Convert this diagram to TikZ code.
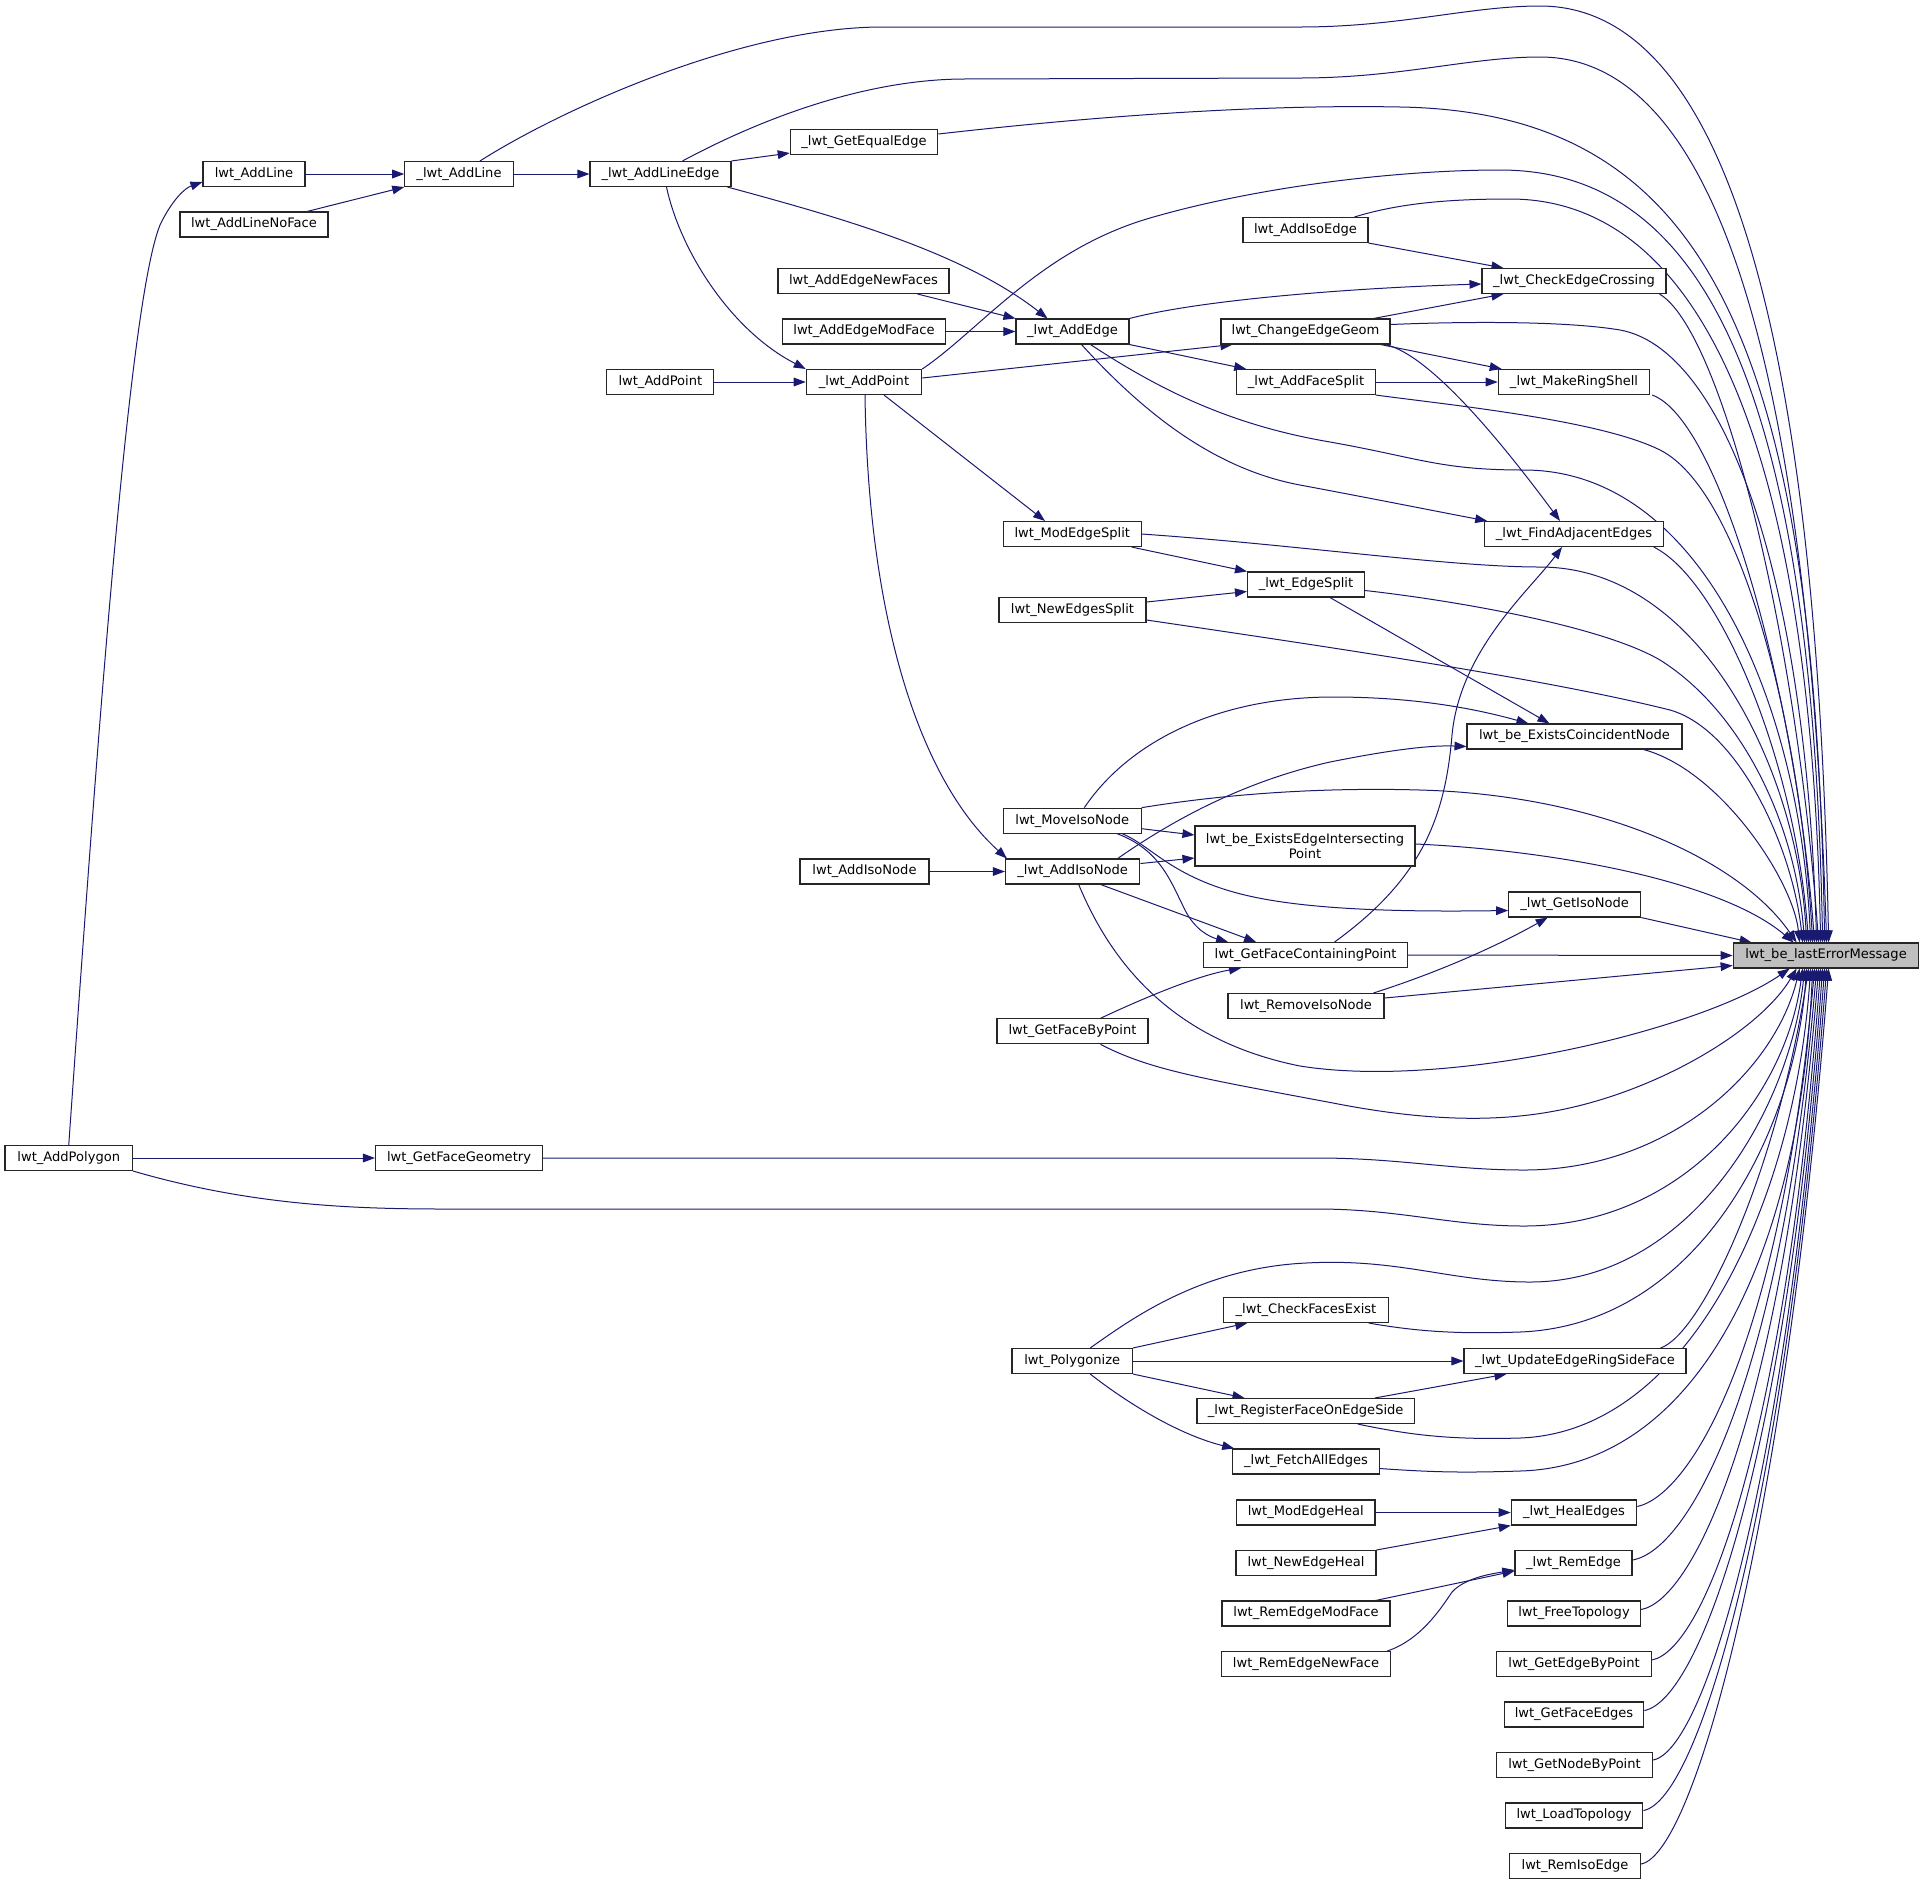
\documentclass[tikz,border=0pt]{standalone}
\usepackage{fontspec}
\setmainfont{DejaVu Sans}
\usetikzlibrary{arrows.meta,calc}
\definecolor{navy}{HTML}{191970}
\definecolor{lastgray}{HTML}{BFBFBF}
\pgfdeclarelayer{bg}
\pgfsetlayers{bg,main}
\tikzset{
  box/.style={draw=black!85, line width=0.8pt, fill=white, minimum height=18.75pt, inner sep=0pt, font=\fontsize{9.8}{11.25}\selectfont},
  bw/.style={minimum width={#1*0.75pt}},
  cl/.style={draw=navy, line width=0.75pt, -{Triangle[length=9pt,width=6.5pt]}},
}
\begin{document}
\begin{tikzpicture}[x=0.75pt,y=-0.75pt]
\useasboundingbox (0,0) rectangle (1924,1886);
% nodes
\node[box,bw=127.5] (polygon) at (68.75,1158) {lwt\_AddPolygon};
\node[box,bw=102] (addline) at (254,174) {lwt\_AddLine};
\node[box,bw=148] (addlinenf) at (254,224.5) {lwt\_AddLineNoFace};
\node[box,bw=108.5] (uaddline) at (459,174) {\_lwt\_AddLine};
\node[box,bw=141] (uaddlineedge) at (660.5,174) {\_lwt\_AddLineEdge};
\node[box,bw=147.5] (ugeteq) at (864,142) {\_lwt\_GetEqualEdge};
\node[box,bw=167] (gfg) at (459,1158) {lwt\_GetFaceGeometry};
\node[box,bw=171] (aenf) at (863.5,281) {lwt\_AddEdgeNewFaces};
\node[box,bw=162.5] (aemf) at (864,331.5) {lwt\_AddEdgeModFace};
\node[box,bw=107] (addpoint) at (660.4,382) {lwt\_AddPoint};
\node[box,bw=115.5] (uaddpoint) at (864,382) {\_lwt\_AddPoint};
\node[box,bw=113] (uaddedge) at (1072.5,331.5) {\_lwt\_AddEdge};
\node[box,bw=125] (addisoedge) at (1305.5,230) {lwt\_AddIsoEdge};
\node[box,bw=184] (ucec) at (1574,281) {\_lwt\_CheckEdgeCrossing};
\node[box,bw=169] (ceg) at (1305.5,331.5) {lwt\_ChangeEdgeGeom};
\node[box,bw=138.5] (uafs) at (1306,382) {\_lwt\_AddFaceSplit};
\node[box,bw=151.5] (umrs) at (1574,382) {\_lwt\_MakeRingShell};
\node[box,bw=137.5] (mes) at (1072.3,534) {lwt\_ModEdgeSplit};
\node[box,bw=178.5] (ufae) at (1574,534) {\_lwt\_FindAdjacentEdges};
\node[box,bw=117] (ues) at (1306,584.5) {\_lwt\_EdgeSplit};
\node[box,bw=147] (nes) at (1072.5,610) {lwt\_NewEdgesSplit};
\node[box,bw=215] (ecn) at (1574.5,736.5) {lwt\_be\_ExistsCoincidentNode};
\node[box,bw=137.5] (mis) at (1072.3,820.7) {lwt\_MoveIsoNode};
\node[box,bw=220,minimum height=30pt,align=center] (eeip) at (1305,846) {lwt\_be\_ExistsEdgeIntersecting\\Point};
\node[box,bw=129] (addisonode) at (864.5,871.5) {lwt\_AddIsoNode};
\node[box,bw=134.5] (uaddisonode) at (1072.7,871.5) {\_lwt\_AddIsoNode};
\node[box,bw=132] (ugin) at (1574.7,904.5) {\_lwt\_GetIsoNode};
\node[box,bw=204] (gfcp) at (1305.6,955) {lwt\_GetFaceContainingPoint};
\node[box,bw=185.7,fill=lastgray] (le) at (1826,955.5) {lwt\_be\_lastErrorMessage};
\node[box,bw=156] (rin) at (1306,1006) {lwt\_RemoveIsoNode};
\node[box,bw=151] (gfbp) at (1072.5,1031.3) {lwt\_GetFaceByPoint};
\node[box,bw=164.4] (ucfe) at (1306,1310) {\_lwt\_CheckFacesExist};
\node[box,bw=120.4] (poly) at (1072.2,1361) {lwt\_Polygonize};
\node[box,bw=222] (uuers) at (1575,1361) {\_lwt\_UpdateEdgeRingSideFace};
\node[box,bw=217.4] (urfoes) at (1305.7,1411) {\_lwt\_RegisterFaceOnEdgeSide};
\node[box,bw=146.5] (ufetch) at (1306,1461.5) {\_lwt\_FetchAllEdges};
\node[box,bw=138.4] (meh) at (1305.8,1512.5) {lwt\_ModEdgeHeal};
\node[box,bw=125.5] (uhe) at (1574,1512.5) {\_lwt\_HealEdges};
\node[box,bw=140] (neh) at (1306,1563) {lwt\_NewEdgeHeal};
\node[box,bw=117] (ure) at (1573.5,1563) {\_lwt\_RemEdge};
\node[box,bw=168] (remf) at (1306,1613.5) {lwt\_RemEdgeModFace};
\node[box,bw=133] (ft) at (1574,1613.5) {lwt\_FreeTopology};
\node[box,bw=169.6] (renf) at (1306,1664) {lwt\_RemEdgeNewFace};
\node[box,bw=154.5] (gebp) at (1574,1664) {lwt\_GetEdgeByPoint};
\node[box,bw=139.6] (gfe) at (1574,1714.5) {lwt\_GetFaceEdges};
\node[box,bw=156.3] (gnbp) at (1574.5,1765) {lwt\_GetNodeByPoint};
\node[box,bw=137.8] (lt) at (1574,1815.5) {lwt\_LoadTopology};
\node[box,bw=131] (rie) at (1575,1866) {lwt\_RemIsoEdge};
% ports on lwt_be_lastErrorMessage
\foreach \i/\d in {1/96,2/94,3/92,4/90,5/88,6/86,7/84,8/82,9/80,10/78,11/76,12/74,13/72,14/70,15/67,16/64,17/61,18/19}
  \coordinate (T\i) at ($(le.north west)+(\d,0)$);
\foreach \i/\d in {1/57,2/64,3/67,4/70,5/72,6/74,7/76,8/78,9/80,10/82,11/84,12/86,13/88,14/90,15/92,16/94,17/96}
  \coordinate (B\i) at ($(le.south west)+(\d,0)$);
\begin{pgfonlayer}{bg}
% into lwt_be_lastErrorMessage from above
\draw[cl] ($(uaddline.north)+(21,0)$) .. controls (560,110) and (740,28) .. (880,27) -- (1300,27) .. controls (1400,27) and (1470,6) .. (1540,6) .. controls (1700,6) and (1815,250) .. (T1);
\draw[cl] ($(uaddlineedge.north)+(22,0)$) .. controls (740,130) and (850,80) .. (962,79) -- (1300,78) .. controls (1400,78) and (1470,57) .. (1540,57) .. controls (1690,57) and (1805,280) .. (T2);
\draw[cl] ($(ugeteq.east)+(0,-8)$) .. controls (1150,110) and (1300,105) .. (1400,107) .. controls (1700,112) and (1815,330) .. (T3);
\draw[cl] (uaddpoint.north east) .. controls (980,330) and (1040,250) .. (1150,218) .. controls (1260,186) and (1400,170) .. (1500,170) .. controls (1700,170) and (1812,380) .. (T4);
\draw[cl] ($(addisoedge.north)+(49,0)$) .. controls (1400,203) and (1450,199) .. (1510,199) .. controls (1690,199) and (1810,420) .. (T5);
\draw[cl] ($(ucec.south east)+(-7,0)$) .. controls (1720,330) and (1795,620) .. (T6);
\draw[cl] ($(ceg.east)+(0,-7)$) .. controls (1450,322) and (1560,320) .. (1620,330) .. controls (1720,348) and (1805,560) .. (T7);
\draw[cl] ($(umrs.south east)+(2,0)$) .. controls (1720,420) and (1795,690) .. (T8);
\draw[cl] (uafs.south east) .. controls (1450,405) and (1600,420) .. (1660,450) .. controls (1740,490) and (1800,720) .. (T9);
\draw[cl] ($(uaddedge.south)+(18,0)$) .. controls (1160,390) and (1230,425) .. (1330,442) .. controls (1420,458) and (1440,470) .. (1524,470) .. controls (1700,470) and (1800,700) .. (T10);
\draw[cl] ($(ufae.south east)+(-10,0)$) .. controls (1720,580) and (1795,760) .. (T11);
\draw[cl] (mes.east) .. controls (1300,545) and (1450,567) .. (1540,567) .. controls (1700,567) and (1798,770) .. (T12);
\draw[cl] ($(ues.east)+(0,6)$) .. controls (1450,600) and (1600,625) .. (1660,660) .. controls (1740,710) and (1795,820) .. (T13);
\draw[cl] ($(nes.east)+(0,10)$) .. controls (1350,650) and (1550,680) .. (1670,710) .. controls (1740,730) and (1793,850) .. (T14);
\draw[cl] ($(ecn.south east)+(-39,0)$) .. controls (1720,770) and (1793,880) .. (T15);
\draw[cl] (mis.north east) .. controls (1250,790) and (1350,788) .. (1420,790) .. controls (1600,795) and (1740,860) .. (T16);
\draw[cl] ($(eeip.east)+(0,-2)$) .. controls (1550,850) and (1720,880) .. (T17);
\draw[cl] (ugin.south east) -- (T18);
\draw[cl] (gfcp.east) -- (le.west);
\draw[cl] ($(rin.east)+(0,-8)$) -- ($(le.west)+(0,10)$);
% into lwt_be_lastErrorMessage from below
\draw[cl] ($(uaddisonode.south)+(6,0)$) .. controls (1110,960) and (1170,1040) .. (1300,1066) .. controls (1450,1090) and (1700,1030) .. (B1);
\draw[cl] ($(gfbp.south)+(28,0)$) .. controls (1150,1070) and (1200,1078) .. (1333,1103) .. controls (1430,1122) and (1500,1122) .. (1560,1110) .. controls (1660,1090) and (1760,1030) .. (B2);
\draw[cl] (gfg.east) -- (1317,1158) .. controls (1400,1158) and (1450,1170) .. (1524,1170) .. controls (1670,1170) and (1775,1070) .. (B3);
\draw[cl] (polygon.south east) .. controls (250,1205) and (350,1209) .. (446,1209) -- (1317,1209) .. controls (1400,1209) and (1450,1226) .. (1524,1226) .. controls (1680,1226) and (1785,1100) .. (B4);
\draw[cl] ($(poly.north)+(18,0)$) .. controls (1130,1320) and (1200,1268) .. (1306,1263) .. controls (1400,1258) and (1450,1282) .. (1530,1282) .. controls (1690,1282) and (1790,1110) .. (B5);
\draw[cl] ($(ucfe.south east)+(-20,0)$) .. controls (1420,1332) and (1460,1334) .. (1520,1332) .. controls (1700,1325) and (1795,1130) .. (B6);
\draw[cl] ($(uuers.north east)+(-26,0)$) .. controls (1700,1335) and (1775,1180) .. (B7);
\draw[cl] ($(urfoes.south)+(52,0)$) .. controls (1410,1435) and (1450,1440) .. (1520,1438) .. controls (1690,1432) and (1795,1200) .. (B8);
\draw[cl] ($(ufetch.east)+(0,7)$) .. controls (1430,1472) and (1460,1473) .. (1520,1471) .. controls (1700,1466) and (1800,1250) .. (B9);
\draw[cl] ($(uhe.east)+(0,-6)$) .. controls (1690,1495) and (1780,1350) .. (B10);
\draw[cl] ($(ure.east)+(0,-3)$) .. controls (1690,1550) and (1782,1380) .. (B11);
\draw[cl] ($(ft.east)+(0,-4)$) .. controls (1695,1600) and (1783,1410) .. (B12);
\draw[cl] ($(gebp.east)+(0,-4)$) .. controls (1705,1650) and (1785,1440) .. (B13);
\draw[cl] ($(gfe.east)+(0,-4)$) .. controls (1700,1700) and (1786,1460) .. (B14);
\draw[cl] ($(gnbp.east)+(0,-5)$) .. controls (1705,1750) and (1786,1480) .. (B15);
\draw[cl] ($(lt.east)+(0,-5)$) .. controls (1700,1800) and (1786,1500) .. (B16);
\draw[cl] ($(rie.east)+(0,-2)$) .. controls (1695,1854) and (1786,1520) .. (B17);
% other calls
\draw[cl] (polygon.north) .. controls (100,700) and (130,300) .. (160,225) .. controls (172,200) and (185,188) .. ($(addline.west)+(0,8)$);
\draw[cl] (addline.east) -- (uaddline.west);
\draw[cl] ($(addlinenf.north)+(53,0)$) -- (uaddline.south west);
\draw[cl] (uaddline.east) -- (uaddlineedge.west);
\draw[cl] (uaddlineedge.north east) -- ($(ugeteq.south west)+(0,-2)$);
\draw[cl] ($(uaddlineedge.south east)+(-4,0)$) .. controls (830,215) and (960,250) .. ($(uaddedge.north)+(-25,0)$);
\draw[cl] ($(uaddlineedge.south)+(6,0)$) .. controls (680,250) and (730,330) .. (uaddpoint.north west);
\draw[cl] ($(aenf.south east)+(-32,0)$) -- (uaddedge.north west);
\draw[cl] (aemf.east) -- (uaddedge.west);
\draw[cl] (addpoint.east) -- (uaddpoint.west);
\draw[cl] ($(uaddpoint.east)+(0,-4)$) -- ($(ceg.south west)+(12,0)$);
\draw[cl] ($(uaddpoint.south)+(20,0)$) -- ($(mes.north west)+(42,0)$);
\draw[cl] ($(uaddpoint.south)+(1,0)$) .. controls (868,620) and (920,780) .. ($(uaddisonode.north west)+(2,0)$);
\draw[cl] (uaddedge.north east) .. controls (1200,300) and (1350,288) .. ($(ucec.west)+(0,3)$);
\draw[cl] (uaddedge.south east) -- ($(uafs.north west)+(10,0)$);
\draw[cl] ($(uaddedge.south)+(9,0)$) .. controls (1150,420) and (1220,470) .. (1300,485) .. controls (1380,500) and (1440,512) .. ($(ufae.north west)+(3,0)$);
\draw[cl] (addisoedge.south east) -- ($(ucec.north west)+(22,0)$);
\draw[cl] ($(ceg.north east)+(-17,0)$) -- ($(ucec.south west)+(22,0)$);
\draw[cl] ($(ceg.south east)+(-10,0)$) -- ($(umrs.north west)+(4,0)$);
\draw[cl] ($(ceg.south east)+(-5,0)$) .. controls (1430,355) and (1500,440) .. ($(ufae.north)+(-14,0)$);
\draw[cl] (uafs.east) -- (umrs.west);
\draw[cl] ($(mes.south east)+(-10,0)$) -- (ues.north west);
\draw[cl] ($(nes.east)+(0,-8)$) -- ($(ues.west)+(0,7)$);
\draw[cl] ($(ues.south)+(24,0)$) -- ($(ecn.north west)+(83,0)$);
\draw[cl] ($(mis.north)+(12,0)$) .. controls (1130,740) and (1220,697) .. (1333,697) .. controls (1420,697) and (1480,710) .. ($(ecn.north west)+(62,0)$);
\draw[cl] ($(mis.east)+(0,8)$) -- ($(eeip.west)+(0,-11)$);
\draw[cl] ($(uaddisonode.north)+(45,0)$) .. controls (1180,815) and (1250,780) .. (1330,762) .. controls (1390,750) and (1430,745) .. ($(ecn.west)+(0,10)$);
\draw[cl] ($(uaddisonode.east)+(0,-8)$) -- ($(eeip.west)+(0,12)$);
\draw[cl] ($(mis.south)+(45,0)$) .. controls (1160,850) and (1170,880) .. (1185,910) .. controls (1195,930) and (1210,937) .. ($(gfcp.north west)+(25,0)$);
\draw[cl] ($(mis.south)+(50,0)$) .. controls (1150,845) and (1170,875) .. (1237,893) .. controls (1300,910) and (1400,912) .. ($(ugin.west)+(0,6)$);
\draw[cl] ($(uaddisonode.south)+(28,0)$) -- ($(gfcp.north west)+(53,0)$);
\draw[cl] (addisonode.east) -- (uaddisonode.west);
\draw[cl] ($(gfcp.north)+(29,0)$) .. controls (1420,880) and (1445,820) .. (1452,735) .. controls (1460,650) and (1530,590) .. ($(ufae.south)+(-12,0)$);
\draw[cl] ($(rin.north east)+(-11,0)$) .. controls (1430,975) and (1490,950) .. ($(ugin.south)+(-27,0)$);
\draw[cl] ($(gfbp.north)+(28,0)$) .. controls (1150,995) and (1200,975) .. ($(gfcp.south west)+(38,0)$);
\draw[cl] (polygon.east) -- (gfg.west);
\draw[cl] (poly.north east) -- ($(ucfe.south west)+(24,0)$);
\draw[cl] (poly.east) -- (uuers.west);
\draw[cl] (poly.south east) -- ($(urfoes.north west)+(48,0)$);
\draw[cl] ($(poly.south)+(18,0)$) .. controls (1130,1405) and (1180,1435) .. ($(ufetch.north west)+(2,0)$);
\draw[cl] ($(urfoes.north east)+(-40,0)$) -- ($(uuers.south west)+(43,0)$);
\draw[cl] (meh.east) -- (uhe.west);
\draw[cl] (neh.north east) -- (uhe.south west);
\draw[cl] ($(remf.north east)+(-15,0)$) -- ($(ure.west)+(0,8)$);
\draw[cl] ($(renf.north east)+(-4,0)$) .. controls (1420,1640) and (1440,1610) .. (1452,1592) .. controls (1465,1578) and (1490,1574) .. ($(ure.west)+(0,7)$);
\end{pgfonlayer}
\end{tikzpicture}
\end{document}
